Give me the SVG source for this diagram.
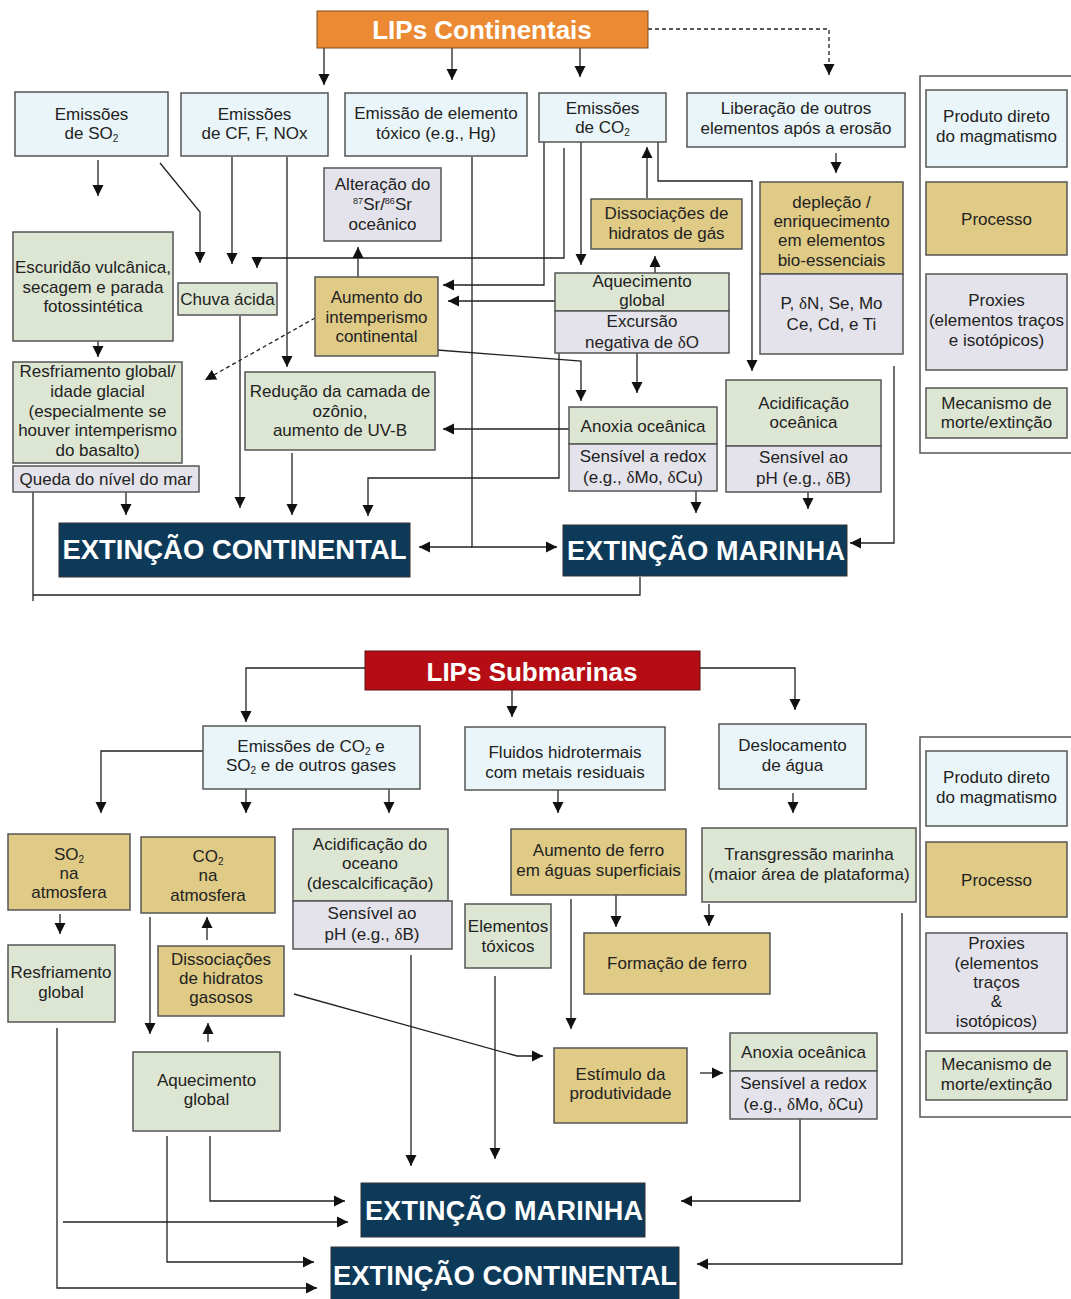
<svg xmlns="http://www.w3.org/2000/svg" width="1071" height="1299" viewBox="0 0 1071 1299">
<defs>
<style>
.t{font-family:"Liberation Sans",Arial,sans-serif;font-size:17px;fill:#222;text-anchor:middle}
.g{font-family:"Liberation Serif","Times New Roman",serif}
.n{stroke:#555;stroke-width:1.5}
.bl{fill:#e9f5f8}.tn{fill:#e0cb86}.gr{fill:#e4e3eb}.gn{fill:#dde6d2}
.nv{fill:#0e3a5a;stroke:#333;stroke-width:1}
.x{font-family:"Liberation Sans",Arial,sans-serif;font-weight:bold;font-size:27px;fill:#fff;text-anchor:middle}
.h{font-family:"Liberation Sans",Arial,sans-serif;font-weight:bold;font-size:26px;fill:#fff;text-anchor:middle}
.c{fill:none;stroke:#222;stroke-width:1.3}
.ar{marker-end:url(#a)}
.d{stroke-dasharray:4 3}
.lg{fill:none;stroke:#555;stroke-width:1.5}
</style>
<marker id="a" markerWidth="12" markerHeight="12" refX="11" refY="6" orient="auto" markerUnits="userSpaceOnUse"><path d="M0,0.5 L11,6 L0,11.5 z" fill="#111"/></marker>
</defs>
<rect width="1071" height="1299" fill="#fff"/>

<g id="connectors">
<path class="c ar" d="M324,48 V85"/>
<path class="c ar" d="M452,48 V80"/>
<path class="c ar" d="M580,48 V77"/>
<path class="c ar d" d="M648,29 H829 V75"/>
<path class="c ar" d="M98,160 V196"/>
<path class="c ar" d="M160,163 L200,212 V263"/>
<path class="c ar" d="M232,157 V264"/>
<path class="c ar" d="M287,157 V367"/>
<path class="c ar" d="M564,148 V258 H257 V268"/>
<path class="c ar" d="M544,142 V285 H443"/>
<path class="c ar" d="M581,142 V265"/>
<path class="c ar" d="M647,198 V147"/>
<path class="c ar" d="M658,142 V181 H752 V371"/>
<path class="c ar" d="M655,273 V256"/>
<path class="c ar" d="M555,301 H448"/>
<path class="c ar" d="M358,277 V247"/>
<path class="c ar" d="M437,350 L581,361 V401"/>
<path class="c ar" d="M559,353 V478 H368 V516"/>
<path class="c ar" d="M637,353 V393"/>
<path class="c ar" d="M569,429 H443"/>
<path class="c ar" d="M696,491 V513"/>
<path class="c ar" d="M808,492 V509"/>
<path class="c ar" d="M894,366 V543 H850"/>
<path class="c ar" d="M472,157 V547 H557"/>
<path class="c ar" d="M472,547 H419"/>
<path class="c ar" d="M240,316 V508"/>
<path class="c ar" d="M292,453 V515"/>
<path class="c ar" d="M126,492 V515"/>
<path class="c" d="M33,492 V601 M33,595 H640 V577"/>
<path class="c ar" d="M98,341 V357"/>
<path class="c ar d" d="M315,318 L205,380"/>
<path class="c ar" d="M836,153 V173"/>

<path class="c ar" d="M365,668 H246 V722"/>
<path class="c ar" d="M512,690 V717"/>
<path class="c ar" d="M700,668 H795 V710"/>
<path class="c ar" d="M203,751 H101 V813"/>
<path class="c ar" d="M246,789 V813"/>
<path class="c ar" d="M389,789 V813"/>
<path class="c ar" d="M558,790 V813"/>
<path class="c ar" d="M793,793 V813"/>
<path class="c ar" d="M60,914 V934"/>
<path class="c ar" d="M207,940 V917"/>
<path class="c ar" d="M150,917 V1034"/>
<path class="c ar" d="M208,1042 V1023"/>
<path class="c ar" d="M294,994 L517,1056 H543"/>
<path class="c ar" d="M411,955 V1166"/>
<path class="c ar" d="M495,976 V1159"/>
<path class="c ar" d="M571,899 V1029"/>
<path class="c ar" d="M616,894 V927"/>
<path class="c ar" d="M709,904 V926"/>
<path class="c ar" d="M700,1073 H723"/>
<path class="c ar" d="M800,1119 V1201 H681"/>
<path class="c ar" d="M902,913 V1264 H697"/>
<path class="c ar" d="M210,1136 V1201 H345"/>
<path class="c ar" d="M63,1222 H348"/>
<path class="c ar" d="M167,1136 V1262 H314"/>
<path class="c ar" d="M57,1028 V1288 H317"/>
</g>

<!-- TOP SECTION -->
<g id="lips-continentais">
<rect x="317" y="11" width="331" height="37" fill="#ec8a33" stroke="#7a4a20" stroke-width="1"/>
<text class="h" x="482" y="39">LIPs Continentais</text>
</g>
<g id="emissoes-so2">
<rect class="n bl" x="15" y="92" width="153" height="64"/>
<text class="t" x="91.5" y="120">Emissões</text>
<text class="t" x="91.5" y="139">de SO<tspan font-size="10" dy="3">2</tspan></text>
</g>
<g id="emissoes-cf">
<rect class="n bl" x="181" y="93" width="147" height="63"/>
<text class="t" x="254.5" y="120">Emissões</text>
<text class="t" x="254.5" y="139">de CF, F, NOx</text>
</g>
<g id="emissao-hg">
<rect class="n bl" x="345" y="93" width="182" height="63"/>
<text class="t" x="436" y="119">Emissão de elemento</text>
<text class="t" x="436" y="139">tóxico (e.g., Hg)</text>
</g>
<g id="emissoes-co2">
<rect class="n bl" x="539" y="93" width="127" height="49"/>
<text class="t" x="602.5" y="114">Emissões</text>
<text class="t" x="602.5" y="133">de CO<tspan font-size="10" dy="3">2</tspan></text>
</g>
<g id="liberacao">
<rect class="n bl" x="687" y="93" width="218" height="54"/>
<text class="t" x="796" y="114">Liberação de outros</text>
<text class="t" x="796" y="134">elementos após a erosão</text>
</g>
<g id="alteracao-sr">
<rect class="n gr" x="324" y="168" width="117" height="73"/>
<text class="t" x="382.5" y="190">Alteração do</text>
<text class="t" x="382.5" y="210"><tspan font-size="9" dy="-6">87</tspan><tspan dy="6">Sr/</tspan><tspan font-size="9" dy="-6">86</tspan><tspan dy="6">Sr</tspan></text>
<text class="t" x="382.5" y="230">oceânico</text>
</g>
<g id="dissociacoes-gas">
<rect class="n tn" x="591" y="199" width="151" height="50"/>
<text class="t" x="666.5" y="219">Dissociações de</text>
<text class="t" x="666.5" y="239">hidratos de gás</text>
</g>
<g id="deplecao">
<rect class="n tn" x="760" y="182" width="143" height="92"/>
<text class="t" x="831.5" y="208">depleção /</text>
<text class="t" x="831.5" y="227">enriquecimento</text>
<text class="t" x="831.5" y="246">em elementos</text>
<text class="t" x="831.5" y="266">bio-essenciais</text>
<rect class="n gr" x="760" y="274" width="143" height="80"/>
<text class="t" x="831.5" y="309">P, <tspan class="g">δ</tspan>N, Se, Mo</text>
<text class="t" x="831.5" y="330">Ce, Cd, e Ti</text>
</g>
<g id="escuridao">
<rect class="n gn" x="13" y="232" width="160" height="109"/>
<text class="t" x="93" y="273">Escuridão vulcânica,</text>
<text class="t" x="93" y="293">secagem e parada</text>
<text class="t" x="93" y="312">fotossintética</text>
</g>
<g id="chuva-acida">
<rect class="n gn" x="178" y="283" width="99" height="32"/>
<text class="t" x="227.5" y="305">Chuva ácida</text>
</g>
<g id="aumento-intemperismo">
<rect class="n tn" x="315" y="277" width="123" height="79"/>
<text class="t" x="376.5" y="303">Aumento do</text>
<text class="t" x="376.5" y="323">intemperismo</text>
<text class="t" x="376.5" y="342">continental</text>
</g>
<g id="aquecimento-global">
<rect class="n gn" x="555" y="273" width="174" height="38"/>
<text class="t" x="642" y="287">Aquecimento</text>
<text class="t" x="642" y="306">global</text>
<rect class="n gr" x="555" y="311" width="174" height="42"/>
<text class="t" x="642" y="327">Excursão</text>
<text class="t" x="642" y="348">negativa de <tspan class="g">δ</tspan>O</text>
</g>
<g id="resfriamento-global">
<rect class="n gn" x="13" y="362" width="169" height="101"/>
<text class="t" x="97.5" y="377">Resfriamento global/</text>
<text class="t" x="97.5" y="397">idade glacial</text>
<text class="t" x="97.5" y="417">(especialmente se</text>
<text class="t" x="97.5" y="436">houver intemperismo</text>
<text class="t" x="97.5" y="456">do basalto)</text>
</g>
<g id="queda-nivel-mar">
<rect class="n gr" x="13" y="466" width="186" height="26"/>
<text class="t" x="106" y="485">Queda do nível do mar</text>
</g>
<g id="reducao-ozonio">
<rect class="n gn" x="245" y="372" width="190" height="78"/>
<text class="t" x="340" y="397">Redução da camada de</text>
<text class="t" x="340" y="417">ozônio,</text>
<text class="t" x="340" y="436">aumento de UV-B</text>
</g>
<g id="anoxia-oceanica">
<rect class="n gn" x="569" y="407" width="148" height="37"/>
<text class="t" x="643" y="432">Anoxia oceânica</text>
<rect class="n gr" x="569" y="444" width="148" height="47"/>
<text class="t" x="643" y="462">Sensível a redox</text>
<text class="t" x="643" y="483">(e.g., <tspan class="g">δ</tspan>Mo, <tspan class="g">δ</tspan>Cu)</text>
</g>
<g id="acidificacao-oceanica">
<rect class="n gn" x="726" y="380" width="155" height="66"/>
<text class="t" x="803.5" y="409">Acidificação</text>
<text class="t" x="803.5" y="428">oceânica</text>
<rect class="n gr" x="726" y="446" width="155" height="46"/>
<text class="t" x="803.5" y="463">Sensível ao</text>
<text class="t" x="803.5" y="484">pH (e.g., <tspan class="g">δ</tspan>B)</text>
</g>
<g id="extincao-continental-1">
<rect class="nv" x="59" y="523" width="351" height="54"/>
<text class="x" x="234.5" y="559" textLength="344" lengthAdjust="spacingAndGlyphs">EXTINÇÃO CONTINENTAL</text>
</g>
<g id="extincao-marinha-1">
<rect class="nv" x="563" y="525" width="284" height="51"/>
<text class="x" x="706" y="560" textLength="278" lengthAdjust="spacing">EXTINÇÃO MARINHA</text>
</g>
<g id="legenda-1">
<rect class="lg" x="920" y="76" width="160" height="377"/>
<rect class="n bl" x="926" y="90" width="141" height="77"/>
<text class="t" x="996.5" y="122">Produto direto</text>
<text class="t" x="996.5" y="142">do magmatismo</text>
<rect class="n tn" x="926" y="182" width="141" height="73"/>
<text class="t" x="996.5" y="225">Processo</text>
<rect class="n gr" x="926" y="274" width="141" height="96"/>
<text class="t" x="996.5" y="306">Proxies</text>
<text class="t" x="996.5" y="326">(elementos traços</text>
<text class="t" x="996.5" y="346">e isotópicos)</text>
<rect class="n gn" x="926" y="388" width="141" height="50"/>
<text class="t" x="996.5" y="409">Mecanismo de</text>
<text class="t" x="996.5" y="428">morte/extinção</text>
</g>

<!-- BOTTOM SECTION -->
<g id="lips-submarinas">
<rect x="365" y="651" width="335" height="39" fill="#b50d13" stroke="#5a1010" stroke-width="1"/>
<text class="h" x="532" y="681">LIPs Submarinas</text>
</g>
<g id="emissoes-gases">
<rect class="n bl" x="203" y="726" width="217" height="63"/>
<text class="t" x="311" y="752">Emissões de CO<tspan font-size="10" dy="3">2</tspan><tspan dy="-3"> e</tspan></text>
<text class="t" x="311" y="771">SO<tspan font-size="10" dy="3">2</tspan><tspan dy="-3"> e de outros gases</tspan></text>
</g>
<g id="fluidos-hidrotermais">
<rect class="n bl" x="465" y="727" width="200" height="63"/>
<text class="t" x="565" y="758">Fluidos hidrotermais</text>
<text class="t" x="565" y="778">com metais residuais</text>
</g>
<g id="deslocamento-agua">
<rect class="n bl" x="719" y="724" width="147" height="65"/>
<text class="t" x="792.5" y="751">Deslocamento</text>
<text class="t" x="792.5" y="771">de água</text>
</g>
<g id="so2-atmosfera">
<rect class="n tn" x="8" y="834" width="122" height="76"/>
<text class="t" x="69" y="860">SO<tspan font-size="10" dy="3">2</tspan></text>
<text class="t" x="69" y="879">na</text>
<text class="t" x="69" y="898">atmosfera</text>
</g>
<g id="co2-atmosfera">
<rect class="n tn" x="141" y="837" width="134" height="76"/>
<text class="t" x="208" y="862">CO<tspan font-size="10" dy="3">2</tspan></text>
<text class="t" x="208" y="881">na</text>
<text class="t" x="208" y="901">atmosfera</text>
</g>
<g id="acidificacao-oceano">
<rect class="n gn" x="293" y="829" width="155" height="72"/>
<text class="t" x="370" y="850">Acidificação do</text>
<text class="t" x="370" y="869">oceano</text>
<text class="t" x="370" y="889">(descalcificação)</text>
<rect class="n gr" x="293" y="901" width="159" height="48"/>
<text class="t" x="372" y="919">Sensível ao</text>
<text class="t" x="372" y="940">pH (e.g., <tspan class="g">δ</tspan>B)</text>
</g>
<g id="aumento-ferro">
<rect class="n tn" x="511" y="829" width="175" height="66"/>
<text class="t" x="598.5" y="856">Aumento de ferro</text>
<text class="t" x="598.5" y="876">em águas superficiais</text>
</g>
<g id="transgressao-marinha">
<rect class="n gn" x="702" y="828" width="214" height="74"/>
<text class="t" x="809" y="860">Transgressão marinha</text>
<text class="t" x="809" y="880">(maior área de plataforma)</text>
</g>
<g id="elementos-toxicos">
<rect class="n gn" x="465" y="904" width="86" height="64"/>
<text class="t" x="508" y="932">Elementos</text>
<text class="t" x="508" y="952">tóxicos</text>
</g>
<g id="formacao-ferro">
<rect class="n tn" x="584" y="933" width="186" height="61"/>
<text class="t" x="677" y="969">Formação de ferro</text>
</g>
<g id="resfriamento-global-2">
<rect class="n gn" x="8" y="945" width="107" height="77"/>
<text class="t" x="61" y="978">Resfriamento</text>
<text class="t" x="61" y="998">global</text>
</g>
<g id="dissociacoes-hidratos">
<rect class="n tn" x="158" y="946" width="126" height="70"/>
<text class="t" x="221" y="965">Dissociações</text>
<text class="t" x="221" y="984">de hidratos</text>
<text class="t" x="221" y="1003">gasosos</text>
</g>
<g id="aquecimento-global-2">
<rect class="n gn" x="133" y="1052" width="147" height="79"/>
<text class="t" x="206.5" y="1086">Aquecimento</text>
<text class="t" x="206.5" y="1105">global</text>
</g>
<g id="estimulo-produtividade">
<rect class="n tn" x="554" y="1048" width="133" height="75"/>
<text class="t" x="620.5" y="1080">Estímulo da</text>
<text class="t" x="620.5" y="1099">produtividade</text>
</g>
<g id="anoxia-oceanica-2">
<rect class="n gn" x="730" y="1033" width="147" height="38"/>
<text class="t" x="803.5" y="1058">Anoxia oceânica</text>
<rect class="n gr" x="730" y="1071" width="147" height="48"/>
<text class="t" x="803.5" y="1089">Sensível a redox</text>
<text class="t" x="803.5" y="1110">(e.g., <tspan class="g">δ</tspan>Mo, <tspan class="g">δ</tspan>Cu)</text>
</g>
<g id="extincao-marinha-2">
<rect class="nv" x="361" y="1183" width="284" height="54"/>
<text class="x" x="504" y="1220" textLength="278" lengthAdjust="spacing">EXTINÇÃO MARINHA</text>
</g>
<g id="extincao-continental-2">
<rect class="nv" x="331" y="1247" width="348" height="60"/>
<text class="x" x="505" y="1285" textLength="344" lengthAdjust="spacingAndGlyphs">EXTINÇÃO CONTINENTAL</text>
</g>
<g id="legenda-2">
<rect class="lg" x="920" y="737" width="160" height="380"/>
<rect class="n bl" x="926" y="751" width="141" height="75"/>
<text class="t" x="996.5" y="783">Produto direto</text>
<text class="t" x="996.5" y="803">do magmatismo</text>
<rect class="n tn" x="926" y="842" width="141" height="75"/>
<text class="t" x="996.5" y="886">Processo</text>
<rect class="n gr" x="926" y="933" width="141" height="100"/>
<text class="t" x="996.5" y="949">Proxies</text>
<text class="t" x="996.5" y="969">(elementos</text>
<text class="t" x="996.5" y="988">traços</text>
<text class="t" x="996.5" y="1007">&amp;</text>
<text class="t" x="996.5" y="1027">isotópicos)</text>
<rect class="n gn" x="926" y="1051" width="141" height="49"/>
<text class="t" x="996.5" y="1070">Mecanismo de</text>
<text class="t" x="996.5" y="1090">morte/extinção</text>
</g>
</svg>
